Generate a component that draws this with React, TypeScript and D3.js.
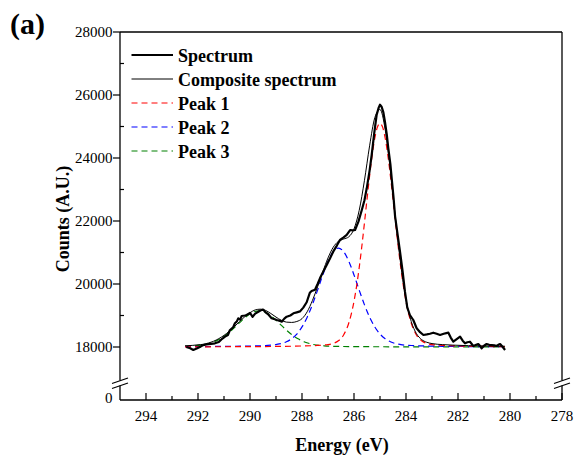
import React from "react";
import * as d3 from "d3";

// Measured spectrum: binding energy (eV) and counts
const spectrumEnergy = [
  292.45, 292.3, 292.18, 292.05, 291.95, 291.8, 291.67, 291.5, 291.35, 291.2,
  291.1, 290.96, 290.85, 290.77, 290.65, 290.58, 290.5, 290.45, 290.38, 290.32,
  290.2, 290.13, 290.0, 289.9, 289.8, 289.68, 289.6, 289.5, 289.4, 289.3,
  289.17, 289.05, 288.97, 288.85, 288.78, 288.68, 288.59, 288.45, 288.33, 288.2,
  288.08, 287.95, 287.82, 287.7, 287.63, 287.5, 287.4, 287.31, 287.18, 287.05,
  286.92, 286.8, 286.66, 286.54, 286.4, 286.28, 286.15, 286.05, 285.96, 285.83,
  285.7, 285.6, 285.51, 285.4, 285.32, 285.22, 285.13, 285.05, 285.0, 284.94,
  284.87, 284.81, 284.74, 284.68, 284.6, 284.55, 284.48, 284.42, 284.32, 284.23,
  284.13, 284.04, 283.95, 283.85, 283.72, 283.59, 283.46, 283.33, 283.2, 283.08,
  282.95, 282.82, 282.69, 282.55, 282.45, 282.37, 282.28, 282.18, 282.05, 281.92,
  281.82, 281.73, 281.64, 281.54, 281.41, 281.3, 281.22, 281.15, 281.09, 281.0,
  280.9, 280.8, 280.7, 280.6, 280.51, 280.45, 280.38, 280.28, 280.19,
];
const spectrumCounts = [
  18000, 17960, 17905, 17950, 17990, 18060, 18085, 18100, 18117, 18160,
  18240, 18330, 18380, 18540, 18620, 18752, 18820, 18911, 18870, 18984,
  19000, 19016, 19080, 18960, 19060, 19120, 19160, 19190, 19100, 19040,
  18911, 18880, 18857, 18830, 18803, 18900, 18962, 19000, 19070, 19100,
  19130, 19250, 19420, 19720, 19778, 19820, 20000, 20181, 20400, 20603,
  20820, 21026, 21220, 21397, 21480, 21556, 21714, 21700, 21714, 21980,
  22349, 22650, 23038, 23600, 24095, 24800, 25365, 25600, 25690, 25629,
  25450, 25152, 24750, 24308, 23800, 23356, 22750, 22150, 21550, 21026,
  20400, 19756, 19250, 19016, 18857, 18594, 18470, 18381, 18400, 18420,
  18454, 18420, 18381, 18420, 18440, 18454, 18300, 18168, 18250, 18327,
  18200, 18117, 18150, 18168, 18032, 18070, 18095, 18030, 17958, 18040,
  18095, 18070, 18063, 18050, 18032, 18070, 18095, 18000, 17905,
];

// Composite (fitted) spectrum
const compositeEnergy = [
  292.5, 292.2, 292.0, 291.8, 291.6, 291.4, 291.2, 291.0, 290.8, 290.6,
  290.4, 290.2, 290.0, 289.8, 289.6, 289.4, 289.2, 289.0, 288.8, 288.6,
  288.4, 288.2, 288.0, 287.8, 287.6, 287.4, 287.2, 287.0, 286.8, 286.6,
  286.4, 286.2, 286.0, 285.8, 285.6, 285.4, 285.2, 285.0, 284.8, 284.6,
  284.4, 284.2, 284.0, 283.8, 283.6, 283.4, 283.2, 283.0, 282.6, 282.2,
  281.6, 281.0, 280.2,
];
const compositeCounts = [
  18038, 18052, 18069, 18086, 18127, 18183, 18266, 18369, 18499, 18647,
  18809, 18961, 19086, 19178, 19201, 19161, 19064, 18950, 18850, 18790,
  18780, 18810, 18900, 19119, 19474, 19913, 20386, 20827, 21165, 21355,
  21427, 21498, 21750, 22336, 23278, 24386, 25278, 25540, 24901, 23602,
  22039, 20602, 19515, 18815, 18427, 18237, 18150, 18109, 18076, 18060,
  18043, 18033, 18025,
];

// Peak 1 component
const peak1Energy = [
  292.5, 290.0, 289.0, 288.0, 287.5, 287.0, 286.8, 286.6, 286.4, 286.2,
  286.0, 285.9, 285.8, 285.7, 285.6, 285.5, 285.4, 285.3, 285.2, 285.1,
  285.0, 284.9, 284.8, 284.7, 284.6, 284.5, 284.4, 284.3, 284.2, 284.1,
  284.0, 283.8, 283.6, 283.4, 283.2, 283.0, 282.5, 282.0, 281.0, 280.2,
];
const peak1Counts = [
  18005, 18012, 18018, 18032, 18045, 18077, 18114, 18197, 18383, 18763,
  19450, 19935, 20519, 21189, 21923, 22687, 23429, 24099, 24633, 24979,
  25100, 24979, 24633, 24099, 23429, 22687, 21923, 21189, 20519, 19935,
  19450, 18763, 18383, 18197, 18114, 18077, 18045, 18032, 18018, 18013,
];

// Peak 2 component
const peak2Energy = [
  292.5, 291.0, 290.0, 289.4, 289.0, 288.6, 288.4, 288.2, 288.0, 287.8,
  287.6, 287.4, 287.2, 287.0, 286.8, 286.6, 286.4, 286.2, 286.0, 285.8,
  285.6, 285.4, 285.2, 285.0, 284.8, 284.6, 284.2, 283.8, 283.2, 282.6,
  281.6, 280.2,
];
const peak2Counts = [
  18010, 18020, 18031, 18047, 18077, 18166, 18261, 18412, 18637, 18948,
  19345, 19806, 20288, 20721, 21028, 21140, 21028, 20721, 20288, 19806,
  19345, 18948, 18637, 18412, 18261, 18166, 18077, 18047, 18031, 18023,
  18015, 18009,
];

// Peak 3 component
const peak3Energy = [
  292.5, 292.15, 291.65, 291.4, 291.15, 290.9, 290.65, 290.4, 290.15, 289.9,
  289.65, 289.4, 289.15, 288.9, 288.65, 288.4, 288.15, 287.9, 287.65, 287.15,
  286.65, 285.65, 283.65, 280.2,
];
const peak3Counts = [
  18024, 18037, 18096, 18160, 18259, 18398, 18575, 18772, 18960, 19098,
  19150, 19098, 18960, 18772, 18575, 18398, 18259, 18160, 18096, 18037,
  18019, 18010, 18005, 18002,
];

const xTicks = [294, 292, 290, 288, 286, 284, 282, 280, 278];
const xMinorTicks = [293, 291, 289, 287, 285, 283, 281, 279];
const yTicks = [18000, 20000, 22000, 24000, 26000, 28000];
const yMinorTicks = [19000, 21000, 23000, 25000, 27000];

const legendLabels = ["Spectrum", "Composite spectrum", "Peak 1", "Peak 2", "Peak 3"];

const FONT = "'Liberation Serif', 'Times New Roman', serif";

const W = 577;
const H = 460;
const left = 120;
const right = 562;
const top = 32;
const bottom = 400;

export default function App() {
  const x = d3.scaleLinear().domain([295, 278]).range([left, right]);
  const y = d3.scaleLinear().domain([18000, 28000]).range([347, top]);

  const mk = (es: number[], cs: number[], curve: d3.CurveFactory) =>
    d3
      .line<number>()
      .x((_, i) => x(es[i]))
      .y((c) => y(c))
      .curve(curve)(cs) || "";

  const spectrumPath = mk(spectrumEnergy, spectrumCounts, d3.curveLinear);
  const compositePath = mk(compositeEnergy, compositeCounts, d3.curveMonotoneX);
  const p1Path = mk(peak1Energy, peak1Counts, d3.curveMonotoneX);
  const p2Path = mk(peak2Energy, peak2Counts, d3.curveMonotoneX);
  const p3Path = mk(peak3Energy, peak3Counts, d3.curveMonotoneX);

  const breakTop = 380.5;
  const breakBottom = 385.5;

  const legendStyles = [
    { stroke: "#000", width: 2.2, dash: undefined },
    { stroke: "#000", width: 1, dash: undefined },
    { stroke: "#ff0000", width: 1.2, dash: "6,4" },
    { stroke: "#0000ff", width: 1.2, dash: "6,4" },
    { stroke: "#008000", width: 1.2, dash: "6,4" },
  ];

  return (
    <svg width={W} height={H} style={{ display: "block", position: "absolute", left: 0, top: 0, background: "#fff" }} fontFamily={FONT}>
      <rect x={0} y={0} width={W} height={H} fill="#fff" />
      {/* Panel label */}
      <text x={10} y={34} fontSize={30} fontWeight="bold">(a)</text>

      {/* Curves */}
      <g fill="none">
        <path d={p3Path} stroke="#008000" strokeWidth={1.2} strokeDasharray="6,4" />
        <path d={p2Path} stroke="#0000ff" strokeWidth={1.2} strokeDasharray="6,4" />
        <path d={p1Path} stroke="#ff0000" strokeWidth={1.2} strokeDasharray="6,4" />
        <path d={compositePath} stroke="#000" strokeWidth={1} />
        <path d={spectrumPath} stroke="#000" strokeWidth={2.2} strokeLinejoin="round" />
      </g>

      {/* Frame */}
      <g stroke="#000" strokeWidth={1.3} fill="none">
        <line x1={left} y1={top} x2={right} y2={top} />
        <line x1={left} y1={bottom} x2={right} y2={bottom} />
        <line x1={left} y1={top} x2={left} y2={breakTop} />
        <line x1={left} y1={breakBottom} x2={left} y2={bottom} />
        <line x1={right} y1={top} x2={right} y2={breakTop} />
        <line x1={right} y1={breakBottom} x2={right} y2={bottom} />
        {/* Axis break marks */}
        {[left, right].map((bx) => (
          <g key={bx}>
            <line x1={bx - 8} y1={breakTop + 3} x2={bx + 8} y2={breakTop - 2.5} />
            <line x1={bx - 8} y1={breakBottom + 3} x2={bx + 8} y2={breakBottom - 2.5} />
          </g>
        ))}
      </g>

      {/* X ticks */}
      <g stroke="#000" strokeWidth={1.2}>
        {xTicks.map((t) => (
          <line key={t} x1={x(t)} x2={x(t)} y1={bottom} y2={bottom - 7} />
        ))}
        {xMinorTicks.map((t) => (
          <line key={t} x1={x(t)} x2={x(t)} y1={bottom} y2={bottom - 4} />
        ))}
      </g>
      <g fontSize={15} textAnchor="middle">
        {xTicks.map((t) => (
          <text key={t} x={x(t)} y={bottom + 20.5}>{t}</text>
        ))}
      </g>

      {/* Y ticks */}
      <g stroke="#000" strokeWidth={1.2}>
        {yTicks.map((t) => (
          <line key={t} x1={left - 7} x2={left} y1={y(t)} y2={y(t)} />
        ))}
        {yMinorTicks.map((t) => (
          <line key={t} x1={left} x2={left + 4} y1={y(t)} y2={y(t)} />
        ))}
      </g>
      <g fontSize={15} textAnchor="end">
        {yTicks.map((t) => (
          <text key={t} x={112.5} y={y(t) + 5}>{t}</text>
        ))}
        <text x={112.5} y={bottom + 3}>0</text>
      </g>

      {/* Axis titles */}
      <text x={(left + right) / 2 + 1} y={451} fontSize={18} fontWeight="bold" textAnchor="middle">
        Energy (eV)
      </text>
      <text
        transform={`translate(69, 219) rotate(-90)`}
        fontSize={18}
        fontWeight="bold"
        textAnchor="middle"
      >
        Counts (A.U.)
      </text>

      {/* Legend */}
      <g>
        {legendLabels.map((lab, i) => {
          const cy = 55 + i * 24;
          const s = legendStyles[i];
          return (
            <g key={lab}>
              <line x1={131.5} x2={173} y1={cy} y2={cy} stroke={s.stroke} strokeWidth={s.width} strokeDasharray={s.dash} />
              <text x={178} y={cy + 6.5} fontSize={18} fontWeight="bold">{lab}</text>
            </g>
          );
        })}
      </g>
    </svg>
  );
}
